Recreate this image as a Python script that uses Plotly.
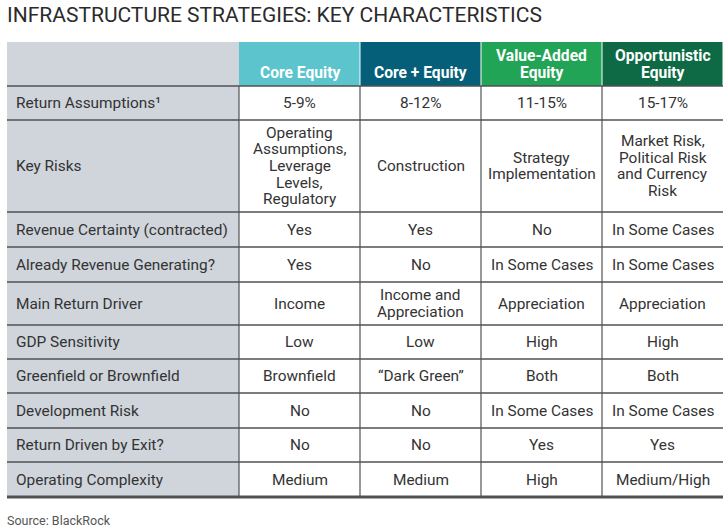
import plotly.graph_objects as go

# ---------------- data ----------------
title = "INFRASTRUCTURE STRATEGIES: KEY CHARACTERISTICS"
source_note = "Source: BlackRock"

strategies = ["Core Equity", "Core + Equity", "Value-Added<br>Equity", "Opportunistic<br>Equity"]

characteristics = [
    "Return Assumptions¹",
    "Key Risks",
    "Revenue Certainty (contracted)",
    "Already Revenue Generating?",
    "Main Return Driver",
    "GDP Sensitivity",
    "Greenfield or Brownfield",
    "Development Risk",
    "Return Driven by Exit?",
    "Operating Complexity",
]

core_equity = [
    "5-9%",
    "Operating<br>Assumptions,<br>Leverage<br>Levels,<br>Regulatory",
    "Yes", "Yes", "Income", "Low", "Brownfield", "No", "No", "Medium",
]
core_plus_equity = [
    "8-12%",
    "Construction",
    "Yes", "No", "Income and<br>Appreciation", "Low", "“Dark Green”", "No", "No", "Medium",
]
value_added_equity = [
    "11-15%",
    "Strategy<br>Implementation",
    "No", "In Some Cases", "Appreciation", "High", "Both", "In Some Cases", "Yes", "High",
]
opportunistic_equity = [
    "15-17%",
    "Market Risk,<br>Political Risk<br>and Currency<br>Risk",
    "In Some Cases", "In Some Cases", "Appreciation", "High", "Both", "In Some Cases", "Yes", "Medium/High",
]

# ---------------- layout geometry & style ----------------
W, H = 724, 529
col_edges = [7, 239, 360, 481, 602, 723]
row_edges = [42, 86, 120, 212, 247, 282, 325, 359, 393, 428, 462, 497]
header_colors = ["#5bc4cc", "#065f79", "#22a456", "#0d6a45"]
label_fill = "#cfd5db"
line_color = "#4f5255"
text_color = "#333333"
FONT = "Roboto"
body_size = 15.4
header_size = 15.6
line_gap = 16.6

fig = go.Figure()
shapes = []
annotations = []

# label column background (header + body)
shapes.append(dict(type="rect", xref="x", yref="y",
                   x0=col_edges[0], x1=col_edges[1], y0=row_edges[0], y1=row_edges[-1],
                   fillcolor=label_fill, line=dict(width=0), layer="below"))

# header coloured cells
for j, c in enumerate(header_colors):
    shapes.append(dict(type="rect", xref="x", yref="y",
                       x0=col_edges[j + 1] + (0.5 if j > 0 else 0), x1=col_edges[j + 2] - 0.5,
                       y0=row_edges[0], y1=row_edges[1],
                       fillcolor=c, line=dict(width=0), layer="below"))

# horizontal lines
for yv in row_edges[1:-1]:
    shapes.append(dict(type="line", xref="x", yref="y",
                       x0=col_edges[0], x1=col_edges[-1], y0=yv, y1=yv,
                       line=dict(color=line_color, width=1.5)))
shapes.append(dict(type="line", xref="x", yref="y",
                   x0=col_edges[0], x1=col_edges[-1], y0=row_edges[-1], y1=row_edges[-1],
                   line=dict(color=line_color, width=3)))

# vertical lines (body)
for xv in col_edges[1:-1]:
    shapes.append(dict(type="line", xref="x", yref="y",
                       x0=xv, x1=xv, y0=row_edges[1], y1=row_edges[-1],
                       line=dict(color=line_color, width=1.2)))


def add_lines(text, xc, ymid, anchor="center", size=body_size, color=text_color,
              bold=False, bottom=None):
    parts = text.split("<br>")
    n = len(parts)
    for i, p in enumerate(parts):
        if bottom is not None:
            y = bottom - (n - 1 - i) * 16.5
        else:
            y = ymid + (i - (n - 1) / 2) * line_gap
        annotations.append(dict(
            x=xc, y=y, xref="x", yref="y", text=f"<b>{p}</b>" if bold else p,
            showarrow=False, xanchor=anchor, yanchor="middle", borderpad=0,
            font=dict(family=FONT, size=size, color=color)))


# header texts
for j, s in enumerate(strategies):
    xc = (col_edges[j + 1] + col_edges[j + 2]) / 2
    add_lines(s, xc, None, bold=True, color="white", size=header_size, bottom=72.5)

# body
columns = [core_equity, core_plus_equity, value_added_equity, opportunistic_equity]
for r, label in enumerate(characteristics):
    ymid = (row_edges[r + 1] + row_edges[r + 2]) / 2
    add_lines(label, 15, ymid, anchor="left")
    for j, col in enumerate(columns):
        xc = (col_edges[j + 1] + col_edges[j + 2]) / 2
        add_lines(col[r], xc, ymid)

# title & source (paper coordinates so they are never hidden)
annotations.append(dict(x=0, y=1 - 15 / H, xref="paper", yref="paper",
                        text=title, showarrow=False, xshift=5,
                        xanchor="left", yanchor="middle",
                        font=dict(family=FONT, size=21, color="#2b2b2b")))
annotations.append(dict(x=0, y=1 - 520 / H, xref="paper", yref="paper",
                        text=source_note, showarrow=False, xshift=5,
                        xanchor="left", yanchor="middle",
                        font=dict(family=FONT, size=12.5, color="#555555")))

fig.update_layout(
    width=W, height=H,
    margin=dict(l=0, r=0, t=0, b=0),
    paper_bgcolor="white", plot_bgcolor="white",
    xaxis=dict(range=[0, W], visible=False, fixedrange=True),
    yaxis=dict(range=[H, 0], visible=False, fixedrange=True),
    shapes=shapes, annotations=annotations,
    showlegend=False,
)

fig.write_html("out.html",
               config={"displayModeBar": False, "staticPlot": True},
               post_script="document.body.style.margin='0';document.body.style.overflow='hidden';")
